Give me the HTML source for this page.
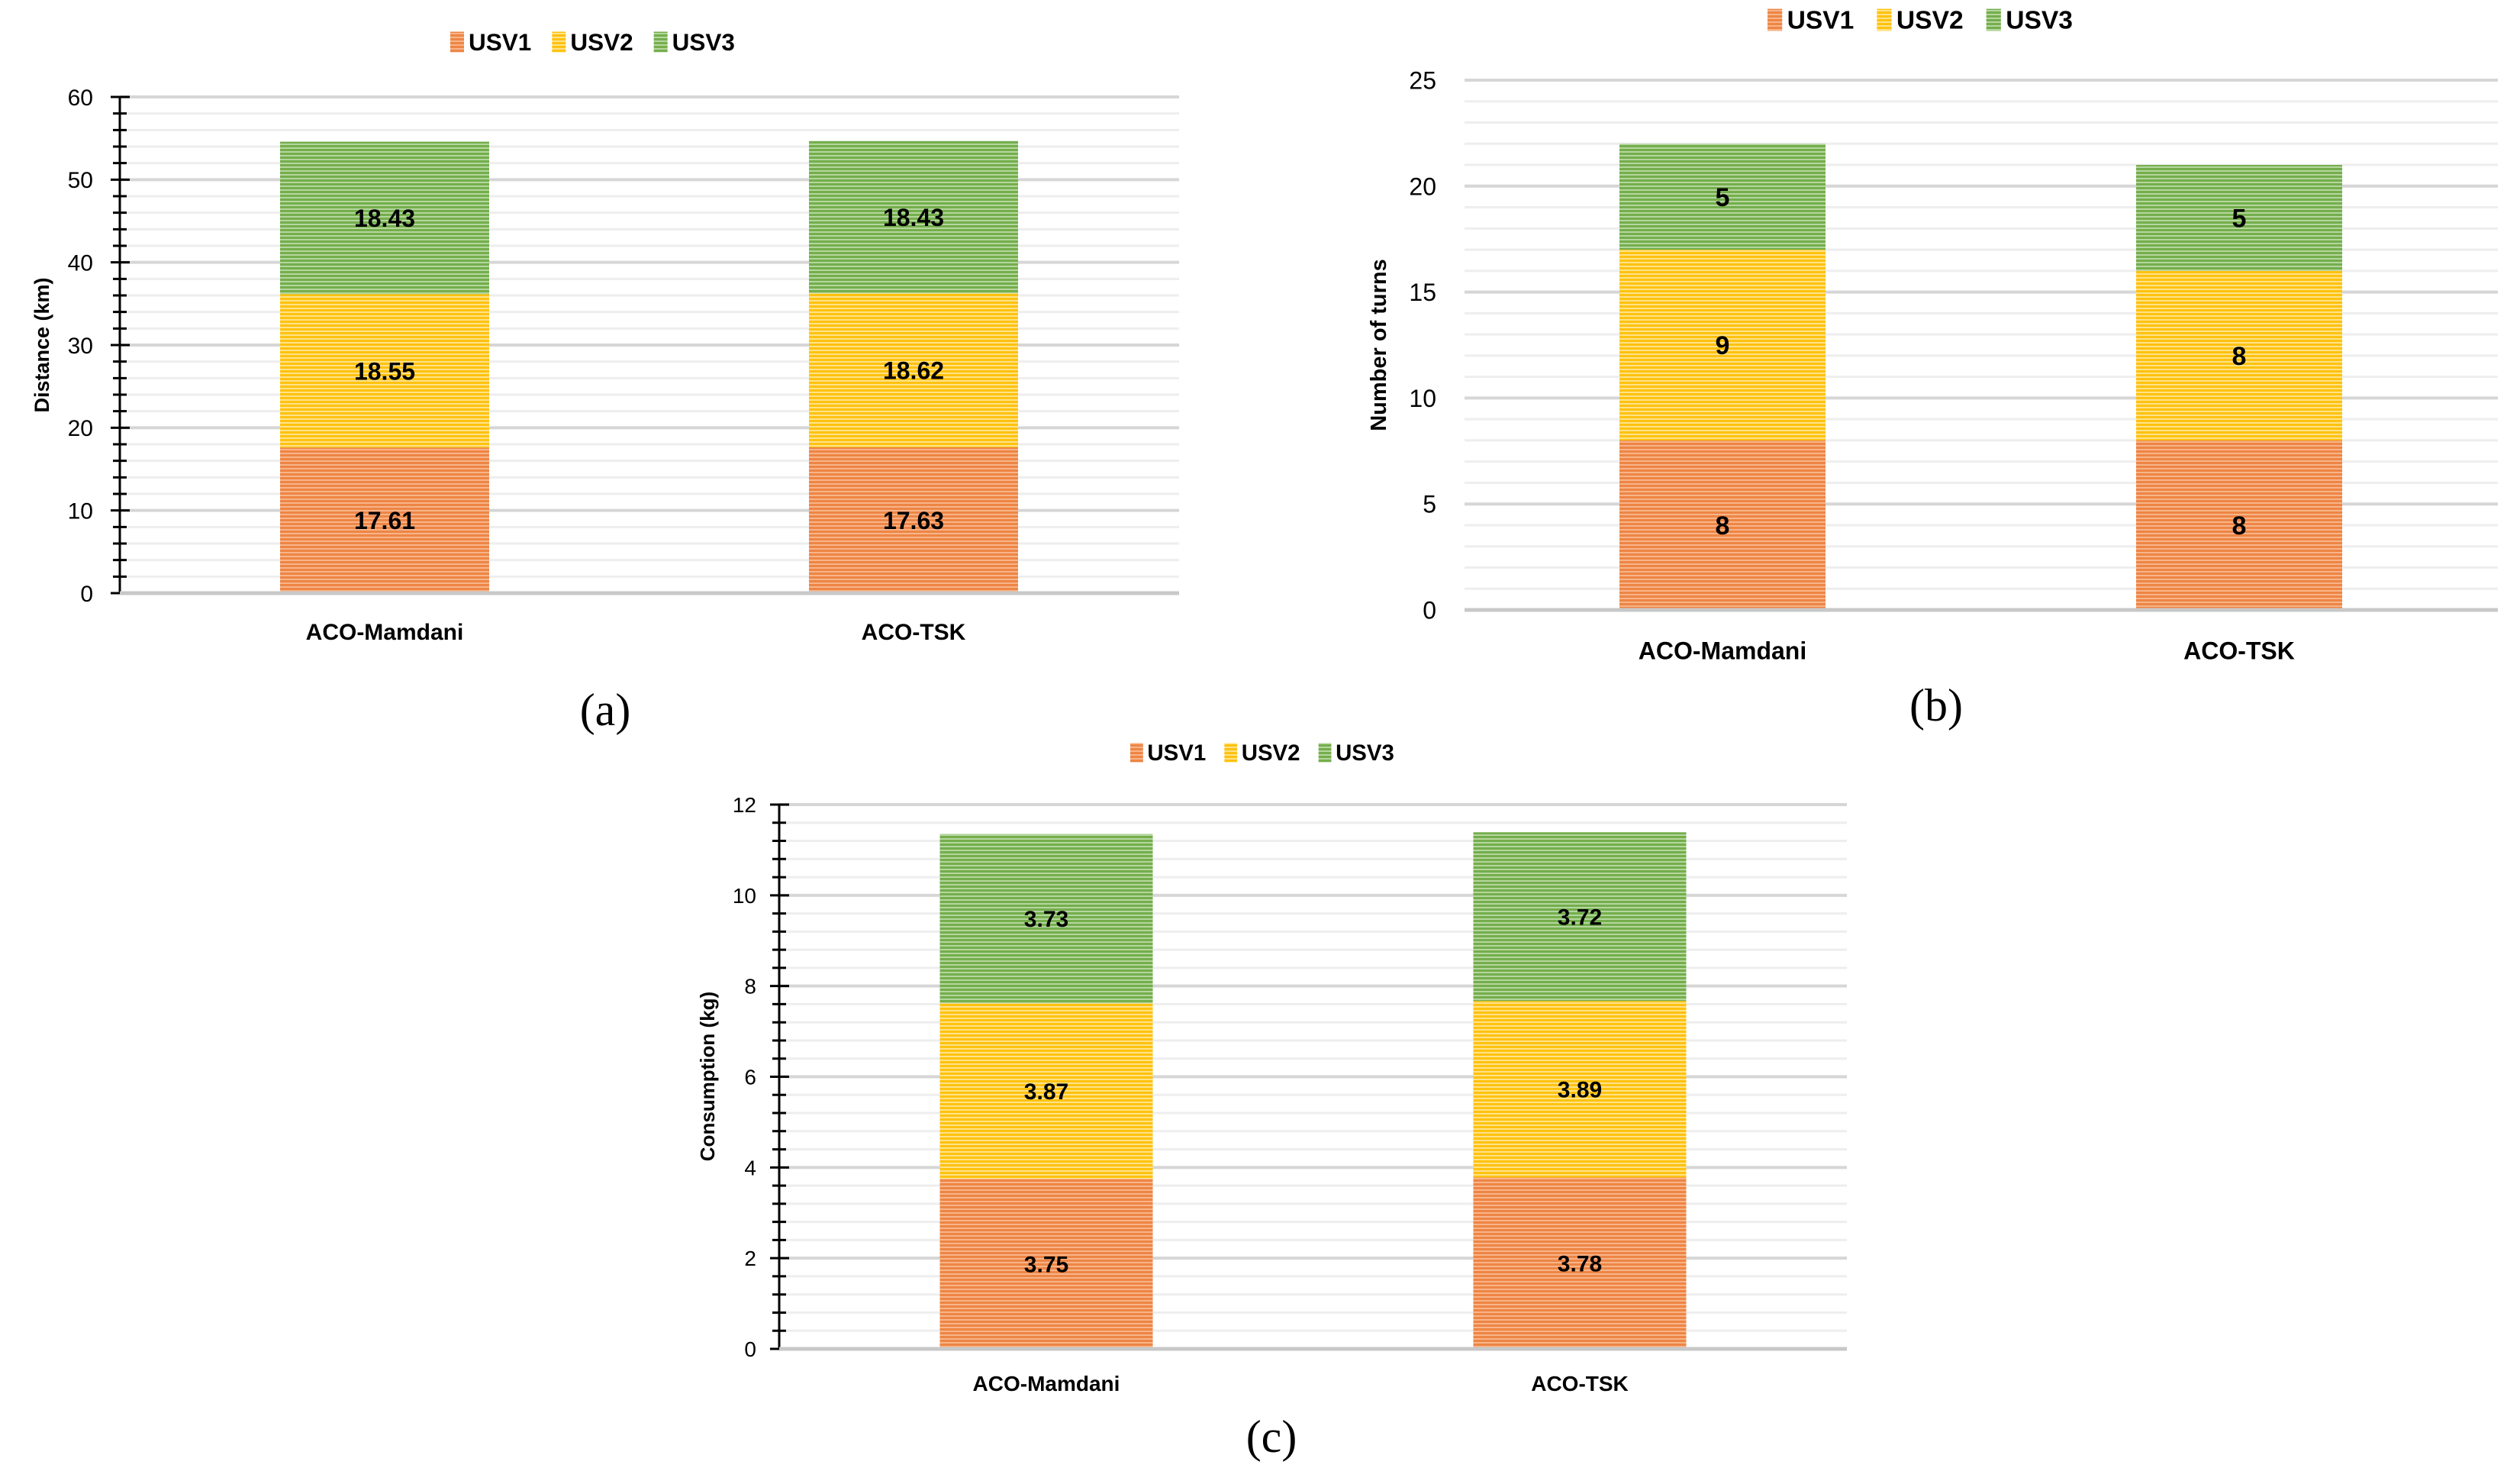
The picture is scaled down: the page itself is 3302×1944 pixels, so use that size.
<!DOCTYPE html>
<html><head><meta charset="utf-8">
<style>
html,body{margin:0;padding:0;background:#fff;}
svg{display:block;}
.t{font-family:"Liberation Sans Narrow","Liberation Sans",sans-serif;}
</style></head>
<body>
<svg id="fig" width="3302" height="1944" viewBox="0 0 3302 1944" xmlns="http://www.w3.org/2000/svg">
<defs>
<pattern id="pOrange" patternUnits="userSpaceOnUse" width="8" height="5"><rect width="8" height="5" fill="#F7B48A"/><rect width="8" height="3" fill="#EE8544"/></pattern>
<pattern id="pYellow" patternUnits="userSpaceOnUse" width="8" height="5"><rect width="8" height="5" fill="#FFE28A"/><rect width="8" height="3" fill="#FFC20E"/></pattern>
<pattern id="pGreen" patternUnits="userSpaceOnUse" width="8" height="5"><rect width="8" height="5" fill="#B5D69E"/><rect width="8" height="3" fill="#74AE4C"/></pattern>
</defs>
</svg>
<script>
// shared data
const categories = ["ACO-Mamdani", "ACO-TSK"];
const seriesNames = ["USV1", "USV2", "USV3"];
// panel (a): distance (km)
const distUSV1 = [17.61, 17.63];
const distUSV2 = [18.55, 18.62];
const distUSV3 = [18.43, 18.43];
const distTicks = ["0", "10", "20", "30", "40", "50", "60"];
// panel (b): number of turns
const turnsUSV1 = [8, 8];
const turnsUSV2 = [9, 8];
const turnsUSV3 = [5, 5];
const turnsTicks = ["0", "5", "10", "15", "20", "25"];
// panel (c): consumption (kg)
const consUSV1 = [3.75, 3.78];
const consUSV2 = [3.87, 3.89];
const consUSV3 = [3.73, 3.72];
const consTicks = ["0", "2", "4", "6", "8", "10", "12"];

const NS = "http://www.w3.org/2000/svg";
const svg = document.getElementById("fig");
const fills = ["url(#pOrange)", "url(#pYellow)", "url(#pGreen)"];

function mk(tag, attrs, parent) {
  const e = document.createElementNS(NS, tag);
  for (const k in attrs) e.setAttribute(k, attrs[k]);
  (parent || svg).appendChild(e);
  return e;
}

function drawPanel(p, series, ticks) {
  const g = mk("g", {});
  
  
  const maxV = parseFloat(ticks[ticks.length - 1]);
  const y = v => p.y0 - (v / maxV) * (p.y0 - p.yTop);
  const nMinor = Math.round(maxV / p.minor);
  for (let i = 1; i <= nMinor; i++) {
    const v = i * p.minor;
    const isMajor = Math.abs(v / p.major - Math.round(v / p.major)) < 1e-6;
    const ln = mk("line", {x1: p.left, x2: p.right, y1: y(v), y2: y(v), stroke: isMajor ? "#d6d6d6" : "#eeeeee", "stroke-width": isMajor ? 4 : 3}, g);
    
    
  }
  if (p.axisTicks) {
    const ax = mk("line", {x1: p.left, x2: p.left, y1: p.yTop, y2: p.y0, stroke: "#000", "stroke-width": 3}, g);
    
    
    for (let i = 0; i <= nMinor; i++) {
      const v = i * p.minor;
      const isMajor = Math.abs(v / p.major - Math.round(v / p.major)) < 1e-6;
      const tk = mk("line", {x1: p.left - (isMajor ? 12 : 9), x2: p.left + (isMajor ? 13 : 9), y1: y(v), y2: y(v), stroke: "#000", "stroke-width": 3}, g);
      
      
    }
  }
  for (let c = 0; c < categories.length; c++) {
    let base = 0;
    for (let s = 0; s < series.length; s++) {
      const v = series[s][c];
      const r = mk("rect", {x: p.cx[c] - p.bw / 2, y: y(base + v), width: p.bw, height: y(base) - y(base + v), fill: fills[s]}, g);
      
      
      const tx = mk("text", {x: p.cx[c], y: y(base + v / 2) + p.vfs * 0.36, "text-anchor": "middle", "font-size": p.vfs, "font-weight": "bold", fill: "#000", class: "t"}, g);
      tx.textContent = String(v);
      
      
      base += v;
    }
  }
  const bl = mk("line", {x1: p.left, x2: p.right, y1: p.y0, y2: p.y0, stroke: "#c8c8c8", "stroke-width": 5}, g);
  
  
  for (let i = 0; i < ticks.length; i++) {
    const v = parseFloat(ticks[i]);
    const tl = mk("text", {x: p.tickX, y: y(v) + p.fs * 0.36, "text-anchor": "end", "font-size": p.fs, fill: "#000", class: "t"}, g);
    tl.textContent = ticks[i];
    
    
  }
  for (let c = 0; c < categories.length; c++) {
    const cl = mk("text", {x: p.cx[c], y: p.catY + p.fs * 0.36, "text-anchor": "middle", "font-size": p.fs, "font-weight": "bold", fill: "#000", class: "t"}, g);
    cl.textContent = categories[c];
    
    
  }
  const yt = mk("text", {x: p.titleX, y: p.titleY, "text-anchor": "middle", "font-size": p.tfs, "font-weight": "bold", fill: "#000", transform: "rotate(-90 " + p.titleX + " " + p.titleY + ")", "font-family": "Liberation Sans, sans-serif"}, g);
  yt.textContent = p.title;
  
  
  const lg = mk("g", {}, g);
  
  
  const itemW = p.legW / 3;
  for (let s = 0; s < 3; s++) {
    const lx = p.legCx - p.legW / 2 + s * itemW;
    const sw = mk("rect", {x: lx, y: p.legY - p.fs * 0.45, width: p.fs * 0.6, height: p.fs * 0.9, fill: fills[s]}, lg);
    
    
    const lt = mk("text", {x: lx + p.fs * 0.8, y: p.legY + p.fs * 0.36, "font-size": p.fs * 1.05, "font-weight": "bold", fill: "#000", class: "t"}, lg);
    lt.textContent = seriesNames[s];
    
    
  }
  const pl = mk("text", {x: p.labX, y: p.labY + 20, "text-anchor": "middle", "font-size": 60, fill: "#000", "font-family": "Liberation Serif, serif"}, g);
  pl.textContent = "(" + p.letter + ")";
  
  
}

drawPanel({id: "distance", letter: "a", left: 157, right: 1545, yTop: 127, y0: 777, major: 10, minor: 2, axisTicks: true,
  cx: [504, 1197], bw: 274, fs: 30, vfs: 32, tfs: 27, tickX: 122, catY: 827, titleX: 64, titleY: 452, title: "Distance (km)",
  legCx: 790, legY: 55, legW: 400, labX: 793, labY: 930},
  [distUSV1, distUSV2, distUSV3], distTicks);

drawPanel({id: "turns", letter: "b", left: 1919, right: 3273, yTop: 105, y0: 799, major: 5, minor: 1, axisTicks: false,
  cx: [2257, 2934], bw: 270, fs: 32, vfs: 34, tfs: 29, tickX: 1882, catY: 852, titleX: 1816, titleY: 452, title: "Number of turns",
  legCx: 2531, legY: 26, legW: 430, labX: 2537, labY: 924},
  [turnsUSV1, turnsUSV2, turnsUSV3], turnsTicks);

drawPanel({id: "consumption", letter: "c", left: 1021, right: 2420, yTop: 1054, y0: 1767, major: 2, minor: 0.4, axisTicks: true,
  cx: [1371, 2070], bw: 279, fs: 28, vfs: 30, tfs: 26, tickX: 991, catY: 1812, titleX: 936, titleY: 1410, title: "Consumption (kg)",
  legCx: 1666, legY: 986, legW: 370, labX: 1666, labY: 1882},
  [consUSV1, consUSV2, consUSV3], consTicks);
</script>
</body></html>
